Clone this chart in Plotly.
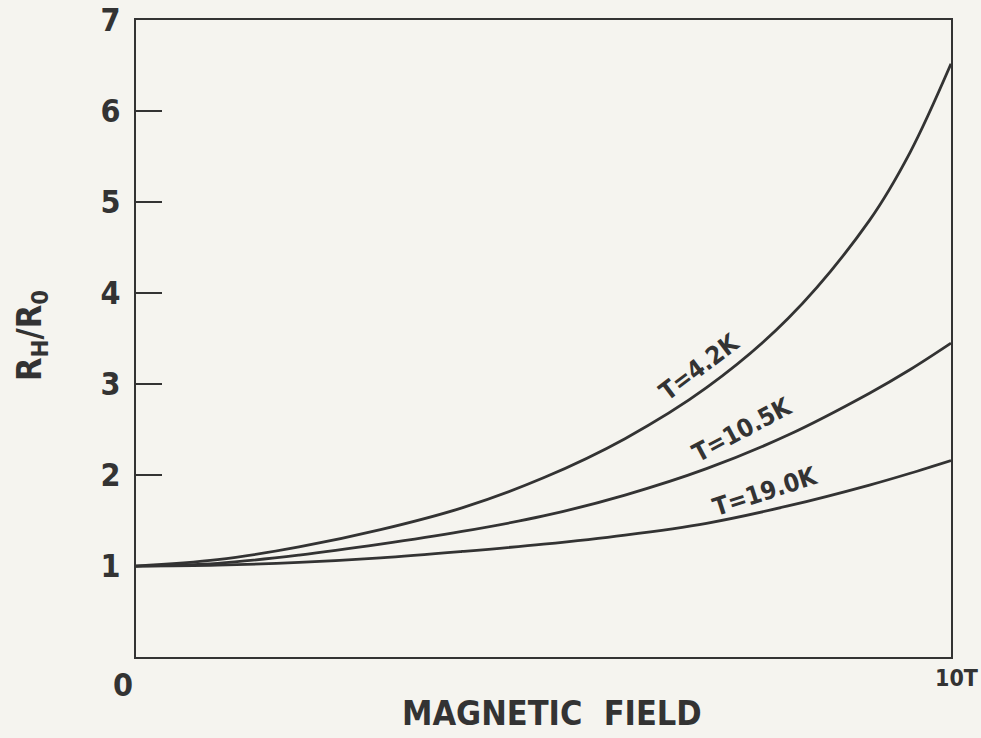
import plotly.graph_objects as go

# Data (magnetic field in tesla, R_H/R_0)
field = [0, 1, 2, 3, 4, 5, 6, 7, 8, 9, 9.5, 10]
r_42 = [1, 1.07, 1.21, 1.40, 1.64, 1.97, 2.40, 2.96, 3.72, 4.80, 5.55, 6.52]
r_105 = [1, 1.03, 1.12, 1.24, 1.38, 1.55, 1.78, 2.07, 2.44, 2.90, 3.16, 3.45]
r_190 = [1, 1.01, 1.04, 1.09, 1.16, 1.24, 1.34, 1.47, 1.66, 1.89, 2.02, 2.16]

series_labels = ["T=4.2K", "T=10.5K", "T=19.0K"]
label_x = [6.92, 7.44, 7.72]
label_y = [3.19, 2.50, 1.82]
label_angle = [-37, -28, -18]

y_ticks = [1, 2, 3, 4, 5, 6, 7]
x_tick_labels = ["0", "10T"]

FONT = "DejaVu Sans Condensed, Liberation Sans Narrow, Roboto, sans-serif"
INK = "#333333"
BG = "#f5f4ef"

fig = go.Figure()
for ys in [r_42, r_105, r_190]:
    fig.add_trace(go.Scatter(
        x=field, y=ys, mode="lines",
        line=dict(color=INK, width=2.8, shape="spline", smoothing=1.0),
        showlegend=False, hoverinfo="skip", cliponaxis=False,
    ))

for txt, lx, ly, ang in zip(series_labels, label_x, label_y, label_angle):
    fig.add_annotation(x=lx, y=ly, text="<b>" + txt + "</b>", showarrow=False,
                       textangle=ang, font=dict(family=FONT, size=25, color=INK))

# x-axis end labels
fig.add_annotation(x=0, y=-0.044, xref="x", yref="paper", text="<b>" + x_tick_labels[0] + "</b>",
                   showarrow=False, xshift=-13, yanchor="middle",
                   font=dict(family=FONT, size=32, color=INK))
fig.add_annotation(x=10, y=-0.033, xref="x", yref="paper", text="<b>" + x_tick_labels[1] + "</b>",
                   showarrow=False, xshift=5, yanchor="middle",
                   font=dict(family=FONT, size=23, color=INK))

# axis titles
fig.add_annotation(x=0.51, y=-0.088, xref="paper", yref="paper", text="<b>MAGNETIC  FIELD</b>",
                   showarrow=False, yanchor="middle", xanchor="center",
                   font=dict(family=FONT, size=34, color=INK))
fig.add_annotation(x=-0.128, y=0.505, xref="paper", yref="paper",
                   text="<b>R<sub>H</sub>/R<sub>0</sub></b>", textangle=-90,
                   showarrow=False, xanchor="center", yanchor="middle",
                   font=dict(family=FONT, size=34, color=INK))

fig.update_xaxes(range=[0, 10], showgrid=False, zeroline=False, showticklabels=False,
                 ticks="", showline=True, linecolor=INK, linewidth=2, mirror=True,
                 automargin=False)
fig.update_yaxes(range=[0, 7.002], showgrid=False, zeroline=False,
                 tickvals=y_ticks, ticktext=["<b>%d</b>" % v for v in y_ticks],
                 ticks="inside", ticklen=26, tickwidth=2, tickcolor=INK,
                 ticklabelstandoff=7,
                 tickfont=dict(family=FONT, size=32, color=INK),
                 showline=True, linecolor=INK, linewidth=2, mirror=True,
                 automargin=False)

fig.update_layout(
    width=981, height=738,
    margin=dict(l=136, r=30, t=20, b=81),
    paper_bgcolor=BG, plot_bgcolor=BG,
    showlegend=False,
)

fig.write_html("out.html", config={"displayModeBar": False},
               post_script="document.body.style.margin='0';document.body.style.padding='0';")
